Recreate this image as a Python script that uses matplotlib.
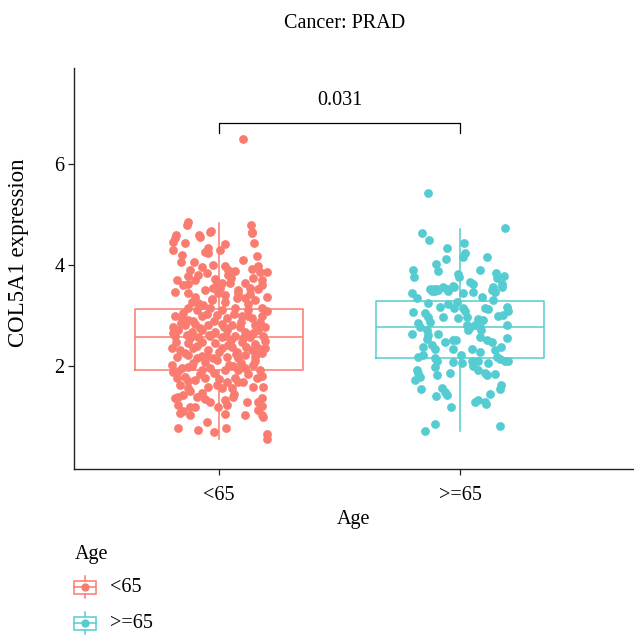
import matplotlib
matplotlib.use("Agg")
import matplotlib.pyplot as plt
from matplotlib.patches import Rectangle
from matplotlib.lines import Line2D

plt.rcParams["font.family"] = ["Liberation Serif", "DejaVu Serif"]
plt.rcParams["font.size"] = 14.5

groups = ["<65", ">=65"]
colors = ["#FA7B6F", "#55CCD1"]
title = "Cancer: PRAD"
p_label = "0.031"

# box summaries
box_stats = [
    dict(med=2.57, q1=1.92, q3=3.13, whislo=0.55, whishi=4.83, fliers=[]),
    dict(med=2.78, q1=2.16, q3=3.29, whislo=0.71, whishi=4.71, fliers=[]),
]

# jittered points: (x offset, expression)
pts_lt65 = [
    (0.098, 6.49), (-0.134, 4.79), (-0.127, 4.85), (-0.033, 4.67), (-0.082, 4.59),
    (0.133, 4.79), (0.137, 4.65), (-0.178, 4.59),
    (-0.183, 4.53), (-0.19, 4.46), (-0.141, 4.44), (-0.079, 4.56), (-0.037, 4.66),
    (0.136, 4.64), (0.147, 4.43), (0.025, 4.42), (-0.044, 4.33), (-0.058, 4.26),
    (-0.047, 4.24), (-0.19, 4.30), (-0.152, 4.20), (0.004, 4.30), (0.156, 4.17),
    (-0.102, 4.05), (-0.024, 4.00), (-0.072, 3.95), (-0.12, 3.90), (0.025, 3.97),
    (0.036, 3.90), (0.053, 3.87), (0.066, 3.89), (0.039, 3.80), (0.136, 3.93),
    (0.17, 3.87), (0.198, 3.87), (-0.086, 3.80), (-0.127, 3.78), (-0.017, 3.72),
    (0.142, 3.74), (0.177, 3.70), (-0.176, 3.70), (-0.01, 3.64), (0.011, 3.64),
    (0.046, 3.64), (0.108, 3.65), (-0.127, 3.62), (-0.024, 3.54), (0.004, 3.54),
    (0.129, 3.54), (0.163, 3.52), (0.177, 3.60), (-0.183, 3.47), (-0.058, 3.50),
    (-0.127, 3.44), (-0.10, 3.37), (-0.113, 3.27), (-0.003, 3.44), (0.025, 3.41),
    (0.08, 3.44), (0.108, 3.34), (0.149, 3.31), (0.198, 3.37), (-0.03, 3.31),
    (0.025, 3.27), (0.073, 3.34), (-0.086, 3.24), (-0.065, 3.21), (-0.127, 3.14),
    (-0.093, 3.11), (-0.037, 3.14), (0.011, 3.11), (0.066, 3.14), (0.122, 3.11),
    (0.177, 3.14), (0.198, 3.08), (-0.183, 2.98), (-0.155, 2.94), (-0.127, 2.92),
    (-0.072, 2.99), (-0.01, 3.01), (0.032, 2.94), (0.094, 2.98), (0.136, 2.94),
    (0.177, 2.99), (-0.19, 2.78), (-0.141, 2.81), (-0.10, 2.84), (-0.044, 2.81),
    (0.011, 2.84), (0.053, 2.81), (0.087, 2.78), (0.149, 2.81), (0.191, 2.78),
    (-0.169, 2.71), (-0.113, 2.68), (-0.072, 2.71), (-0.017, 2.68), (0.032, 2.71),
    (0.108, 2.68), (0.163, 2.71), (-0.183, 2.59), (-0.134, 2.61), (-0.086, 2.58),
    (-0.037, 2.59), (0.011, 2.57), (0.066, 2.59), (0.129, 2.57), (0.184, 2.59),
    (-0.127, 2.45), (-0.072, 2.48), (-0.017, 2.45), (0.039, 2.42), (0.094, 2.48),
    (0.149, 2.43), (-0.196, 2.36), (-0.162, 2.32), (-0.107, 2.35), (-0.044, 2.32),
    (0.011, 2.35), (0.053, 2.38), (0.073, 2.28), (0.136, 2.32), (0.163, 2.35),
    (-0.176, 2.18), (-0.127, 2.22), (-0.093, 2.15), (-0.051, 2.20), (-0.024, 2.15),
    (0.032, 2.18), (0.08, 2.15), (0.108, 2.22), (0.149, 2.18), (0.177, 2.25),
    (-0.196, 2.02), (-0.19, 1.89), (-0.155, 1.95), (-0.113, 1.99), (-0.072, 1.92),
    (-0.037, 1.95), (0.025, 1.92), (0.059, 1.99), (0.08, 1.92), (0.108, 1.95),
    (0.142, 2.02), (0.17, 1.92), (-0.176, 1.76), (-0.141, 1.79), (-0.10, 1.72),
    (-0.058, 1.76), (-0.044, 1.59), (-0.01, 1.62), (0.011, 1.56), (0.032, 1.69),
    (0.066, 1.76), (0.101, 1.69), (0.156, 1.76), (0.184, 1.59), (-0.162, 1.62),
    (-0.127, 1.56), (0.053, 1.56), (-0.169, 1.39), (-0.148, 1.43), (-0.183, 1.36),
    (-0.093, 1.39), (-0.072, 1.46), (-0.037, 1.29), (0.059, 1.39), (0.025, 1.33),
    (0.177, 1.36), (0.163, 1.29), (-0.169, 1.23), (-0.12, 1.19), (-0.10, 1.19),
    (-0.003, 1.19), (0.032, 1.23), (0.115, 1.29), (0.108, 1.03), (0.163, 1.13),
    (0.177, 1.03), (0.184, 0.98), (-0.162, 1.06), (-0.12, 1.03), (0.025, 1.04),
    (-0.051, 0.90), (-0.169, 0.78), (-0.088, 0.73), (-0.019, 0.70), (0.029, 0.78),
    (0.198, 0.65), (0.20, 0.55),
    (-0.15, 3.05), (-0.05, 3.02), (0.06, 3.03), (0.12, 3.22), (-0.02, 2.90),
    (0.09, 2.88), (-0.16, 2.86), (0.17, 2.88), (-0.08, 2.75), (0.02, 2.77),
    (0.14, 2.65), (-0.12, 2.55), (0.05, 2.52), (-0.04, 2.62), (0.10, 2.56),
    (-0.18, 2.48), (0.19, 2.50), (-0.09, 2.40), (0.00, 2.28), (0.11, 2.38),
    (-0.14, 2.25), (0.07, 2.24), (-0.06, 2.08), (0.15, 2.10), (-0.11, 2.05),
    (0.04, 2.02), (-0.02, 1.86), (0.12, 1.84), (-0.17, 1.90), (0.18, 1.80),
    (-0.08, 1.85), (0.08, 1.68), (-0.13, 1.70), (0.00, 1.75), (-0.03, 3.32),
    (0.08, 3.50), (-0.15, 3.60), (0.13, 3.42), (0.05, 3.75), (-0.10, 3.70),
    (0.10, 4.10), (-0.16, 4.05), (0.16, 3.98), (-0.05, 3.85), (0.19, 2.35),
    (-0.19, 2.65), (0.12, 2.98), (-0.11, 2.90), (0.03, 2.60), (-0.07, 2.20),
    (0.16, 2.25), (-0.13, 1.98), (0.09, 2.05), (-0.01, 2.12), (0.14, 1.58),
    (-0.12, 1.50), (0.06, 1.45), (-0.06, 1.35), (0.18, 1.20), (-0.15, 1.10),
]

pts_ge65 = [
    (-0.134, 5.42), (0.187, 4.73), (-0.159, 4.63), (-0.128, 4.49), (0.018, 4.43),
    (-0.053, 4.33), (0.021, 4.23), (0.014, 4.15), (0.113, 4.15), (-0.058, 4.11),
    (-0.10, 4.02), (-0.194, 3.90), (-0.09, 3.88), (0.084, 3.90), (-0.19, 3.77),
    (-0.007, 3.83), (-0.003, 3.77), (0.148, 3.85), (0.152, 3.74), (0.184, 3.79),
    (0.041, 3.67), (0.055, 3.62), (0.175, 3.62), (-0.028, 3.58), (-0.072, 3.57),
    (-0.11, 3.52), (-0.097, 3.52), (-0.125, 3.52), (0.138, 3.57), (-0.052, 3.52),
    (-0.20, 3.44), (-0.18, 3.34), (-0.118, 3.48), (-0.104, 3.49), (-0.09, 3.50),
    (-0.049, 3.49), (-0.027, 3.57), (0.014, 3.44), (0.055, 3.46), (0.093, 3.37),
    (0.131, 3.50), (0.145, 3.46), (0.173, 3.57), (0.138, 3.30), (-0.134, 3.24),
    (-0.083, 3.17), (-0.049, 3.22), (-0.014, 3.27), (-0.024, 3.14), (0.014, 3.15),
    (0.021, 3.08), (0.104, 3.15), (0.118, 3.13), (0.194, 3.17), (0.20, 3.09),
    (-0.194, 3.06), (-0.145, 3.04), (-0.131, 2.97), (-0.069, 2.97), (-0.007, 2.95),
    (0.028, 2.97), (0.159, 2.99), (0.18, 3.00), (0.076, 2.93), (0.097, 2.91),
    (-0.173, 2.85), (-0.166, 2.78), (-0.124, 2.87), (0.028, 2.81), (0.041, 2.78),
    (0.062, 2.82), (0.083, 2.78), (0.087, 2.71), (0.194, 2.82), (-0.20, 2.63),
    (-0.138, 2.71), (-0.131, 2.61), (-0.138, 2.54), (-0.09, 2.64), (-0.028, 2.51),
    (-0.017, 2.51), (-0.062, 2.47), (0.035, 2.71), (0.083, 2.58), (0.11, 2.51),
    (0.131, 2.47), (0.194, 2.56), (-0.152, 2.38), (-0.117, 2.42), (-0.104, 2.34),
    (-0.028, 2.34), (0.048, 2.34), (0.145, 2.31), (0.17, 2.37), (0.083, 2.28),
    (-0.173, 2.18), (-0.152, 2.22), (-0.104, 2.16), (-0.097, 2.09), (0.004, 2.22),
    (-0.028, 2.08), (0.007, 2.06), (0.048, 2.09), (0.076, 2.09), (0.152, 2.18),
    (0.166, 2.14), (0.187, 2.10), (0.20, 2.10), (0.118, 2.06), (-0.18, 1.92),
    (-0.173, 1.86), (-0.166, 1.79), (-0.104, 1.97), (-0.097, 1.82), (-0.042, 1.87),
    (0.055, 1.99), (0.076, 1.92), (0.104, 1.87), (0.11, 1.82), (0.145, 1.84),
    (-0.187, 1.72), (0.17, 1.62), (0.166, 1.54), (-0.163, 1.54), (-0.076, 1.56),
    (-0.062, 1.48), (-0.055, 1.43), (-0.101, 1.40), (0.124, 1.44), (0.062, 1.29),
    (0.076, 1.32), (0.104, 1.29), (0.108, 1.24), (-0.038, 1.19), (-0.104, 0.85),
    (-0.145, 0.71), (0.166, 0.81),
]

fig = plt.figure(figsize=(6.34, 6.35), dpi=100)
ax = fig.add_axes([74 / 634, 166 / 635, 560 / 634, 401 / 635])

positions = [1, 2]
for pos, stats, col in zip(positions, box_stats, colors):
    ax.bxp([stats], positions=[pos], widths=0.70, showcaps=False,
           boxprops=dict(color=col, linewidth=1.1),
           medianprops=dict(color=col, linewidth=1.1),
           whiskerprops=dict(color=col, linewidth=1.1),
           manage_ticks=False, zorder=2)

for pos, pts, col in zip(positions, [pts_lt65, pts_ge65], colors):
    xs = [pos + d for d, _ in pts]
    ys = [v for _, v in pts]
    ax.scatter(xs, ys, s=40, color=col, linewidths=0, zorder=3)

# significance bracket
ax.plot([1, 1, 2, 2], [6.61, 6.81, 6.81, 6.61], color="black", linewidth=0.9)
ax.text(1.5, 7.25, p_label, ha="center", va="center", fontsize=14.5)

ax.set_xlim(0.398, 2.722)
ax.set_ylim(-0.04, 7.9)
ax.set_xticks(positions)
ax.set_xticklabels(groups)
ax.set_yticks([2, 4, 6])
ax.set_xlabel("Age", labelpad=4)
ax.set_ylabel("COL5A1 expression", fontsize=16.5)
ax.yaxis.set_label_coords(-0.080, 0.54)
for s in ["top", "right"]:
    ax.spines[s].set_visible(False)
for s in ["left", "bottom"]:
    ax.spines[s].set_linewidth(1.0)
    ax.spines[s].set_color("#222222")
ax.tick_params(length=4, width=0.9, color="#222222")
ax.tick_params(axis="y", pad=3)
ax.tick_params(axis="x", pad=8)

fig.text(345 / 634, 1 - 24 / 635, title, ha="center", va="center", fontsize=14.5)

# legend drawn in figure pixel coordinates
lg = fig.add_axes([0, 0, 1, 1], zorder=-1)
lg.set_xlim(0, 634)
lg.set_ylim(635, 0)
lg.axis("off")
lg.text(75, 554, "Age", ha="left", va="center", fontsize=14.5)
for i, (lab, col) in enumerate(zip(groups, colors)):
    cy = 587 + i * 36
    lg.add_patch(Rectangle((74, cy - 6.5), 22, 13, fill=False, edgecolor=col, linewidth=1.1))
    lg.add_line(Line2D([85, 85], [cy - 11, cy - 6.5], color=col, linewidth=1.1))
    lg.add_line(Line2D([85, 85], [cy + 6.5, cy + 11], color=col, linewidth=1.1))
    lg.add_line(Line2D([74, 96], [cy, cy], color=col, linewidth=1.1))
    lg.scatter([85], [cy], s=36, color=col, linewidths=0)
    lg.text(110, cy, lab, ha="left", va="center", fontsize=14.5)

fig.savefig("out.png", dpi=100)
